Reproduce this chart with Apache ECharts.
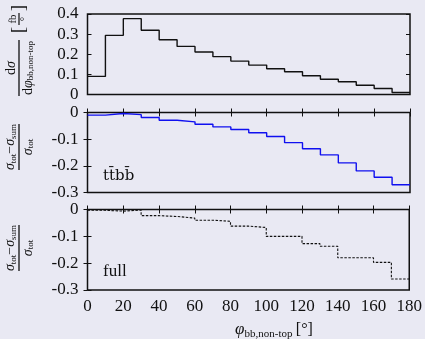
<!DOCTYPE html>
<html><head><meta charset="utf-8">
<script src="https://cdn.jsdelivr.net/npm/echarts@6/dist/echarts.min.js"></script>
<style>html,body{margin:0;padding:0;background:#e9e9f3}#c{width:425px;height:339px}</style>
</head><body><div id="c"></div>
<script>
// bin edges (degrees)
const binEdges = [0,10,20,30,40,50,60,70,80,90,100,110,120,130,140,150,160,170,180];
// dσ/dφ [fb/°]
const dsigma = [0.090,0.294,0.377,0.319,0.272,0.239,0.211,0.188,0.166,0.146,0.128,0.113,0.093,0.076,0.063,0.046,0.030,0.010];
// (σtot-σsum)/σtot, ttbb
const relTtbb = [-0.010,-0.004,-0.008,-0.019,-0.029,-0.035,-0.044,-0.054,-0.064,-0.076,-0.090,-0.113,-0.136,-0.159,-0.189,-0.219,-0.243,-0.271];
// (σtot-σsum)/σtot, full
const relFull = [-0.003,-0.006,-0.002,-0.023,-0.026,-0.032,-0.040,-0.044,-0.062,-0.067,-0.100,-0.100,-0.127,-0.137,-0.180,-0.180,-0.197,-0.259];
const xTicks = [0,20,40,60,80,100,120,140,160,180];

function stepData(vals){
  const d = vals.map((v,i)=>[binEdges[i], v]);
  d.push([binEdges[binEdges.length-1], vals[vals.length-1]]);
  return d;
}
const FF = "'Liberation Serif','DejaVu Serif',serif";
const chart = echarts.init(document.getElementById('c'));
const grids = [
  {left:87.5, right:15, top:14, height:80.5},
  {left:87.5, right:15, top:112.5, height:80},
  {left:87.5, right:15, top:209.5, height:80.5}
];
function xAx(grid, pos, ticks, labels){
  return {type:'value', gridIndex:grid, position:pos, min:xTicks[0], max:xTicks[xTicks.length-1], interval:20,
    axisLine:{show:false}, splitLine:{show:false},
    axisTick:{show:ticks, inside:true, length:4, lineStyle:{color:'#111', width:1}},
    axisLabel:{show:labels, margin:8, color:'#111', fontFamily:FF, fontSize:17}};
}
function yAx(grid, pos, min, max, labels){
  return {type:'value', gridIndex:grid, position:pos, min:min, max:max, interval:0.1,
    axisLine:{show:false}, splitLine:{show:false},
    axisTick:{show:true, inside:true, length:4, lineStyle:{color:'#111', width:1}},
    axisLabel:{show:labels, margin:9, color:'#111', fontFamily:FF, fontSize:17,
      formatter:v=>{const r=Math.round(v*10)/10; return r===0?'0':String(r);}}};
}
function frac(cx, cy, len, num, den, numRich, denRich){
  return {type:'group', x:cx, y:cy, rotation:Math.PI/2, children:[
    {type:'line', shape:{x1:-len/2,y1:0,x2:len/2,y2:0}, style:{stroke:'#111', lineWidth:1.3}},
    {type:'text', x:0, y:-1, style:{text:num, rich:numRich, align:'center', verticalAlign:'bottom', fill:'#111', fontFamily:FF, fontSize:13}},
    {type:'text', x:0, y:1.5, style:{text:den, rich:denRich, align:'center', verticalAlign:'top', fill:'#111', fontFamily:FF, fontSize:13}}
  ]};
}
const sigRich = {
  s:{fontFamily:FF, fontSize:14, fontStyle:'italic', fill:'#111'},
  b:{fontFamily:FF, fontSize:9, fill:'#111', padding:[6,0,0,0]},
  m:{fontFamily:FF, fontSize:14, fill:'#111'}
};
const option = {
  backgroundColor:'#e9e9f3',
  animation:false,
  grid: grids.map(g=>Object.assign({show:true, borderColor:'#111', borderWidth:1.5, backgroundColor:'transparent'}, g)),
  xAxis:[
    xAx(0,'bottom',false,false),
    xAx(1,'bottom',true,false), xAx(1,'top',true,false),
    xAx(2,'bottom',true,true), xAx(2,'top',true,false)
  ],
  yAxis:[
    yAx(0,'left',0,0.4,true), yAx(0,'right',0,0.4,false),
    yAx(1,'left',-0.3,0,true), yAx(1,'right',-0.3,0,false),
    yAx(2,'left',-0.3,0,true), yAx(2,'right',-0.3,0,false)
  ],
  series:[
    {type:'line', xAxisIndex:0, yAxisIndex:0, step:'end', showSymbol:false, data:stepData(dsigma),
      lineStyle:{color:'#111', width:1.4}},
    {type:'line', xAxisIndex:1, yAxisIndex:2, step:'end', showSymbol:false, data:stepData(relTtbb),
      lineStyle:{color:'#1010f0', width:1.4}},
    {type:'line', xAxisIndex:3, yAxisIndex:4, step:'end', showSymbol:false, data:stepData(relFull),
      lineStyle:{color:'#111', width:1.1, type:[2.5,1.5]}}
  ],
  graphic:[
    frac(19, 68, 56, '{m|d}{s|σ}', '{m|d}{s|φ}{b|bb,non-top}', sigRich, sigRich),
    {type:'group', x:19, y:19, rotation:Math.PI/2, children:[
      {type:'text', x:-11, y:0, style:{text:'[', align:'center', verticalAlign:'middle', fill:'#111', fontFamily:FF, fontSize:19}},
      {type:'text', x:11, y:0, style:{text:']', align:'center', verticalAlign:'middle', fill:'#111', fontFamily:FF, fontSize:19}},
      {type:'line', shape:{x1:-6,y1:0,x2:6,y2:0}, style:{stroke:'#111', lineWidth:1.2}},
      {type:'text', x:0, y:-0.5, style:{text:'fb', align:'center', verticalAlign:'bottom', fill:'#111', fontFamily:FF, fontSize:11}},
      {type:'text', x:0, y:0.5, style:{text:'°', align:'center', verticalAlign:'top', fill:'#111', fontFamily:FF, fontSize:11}}
    ]},
    frac(19, 147, 46, '{s|σ}{b|tot}{m|−}{s|σ}{b|sum}', '{s|σ}{b|tot}', sigRich, sigRich),
    frac(19, 248, 46, '{s|σ}{b|tot}{m|−}{s|σ}{b|sum}', '{s|σ}{b|tot}', sigRich, sigRich),
    {type:'text', x:103, y:176, style:{text:'tt\u0304bb\u0304', align:'left', verticalAlign:'middle', fill:'#111', fontFamily:"'DejaVu Serif',serif", fontSize:15}},
    {type:'text', x:103, y:272, style:{text:'full', align:'left', verticalAlign:'middle', fill:'#111', fontFamily:FF, fontSize:17}},
    {type:'text', x:274, y:330, style:{text:'{i|φ}{b|bb,non-top} {m|[°]}', align:'center', verticalAlign:'middle',
      rich:{i:{fontFamily:FF, fontSize:17, fontStyle:'italic', fill:'#111'},
            b:{fontFamily:FF, fontSize:11, fill:'#111', padding:[8,0,0,0]},
            m:{fontFamily:FF, fontSize:16, fill:'#111'}}}}
  ]
};
chart.setOption(option);
</script></body></html>
